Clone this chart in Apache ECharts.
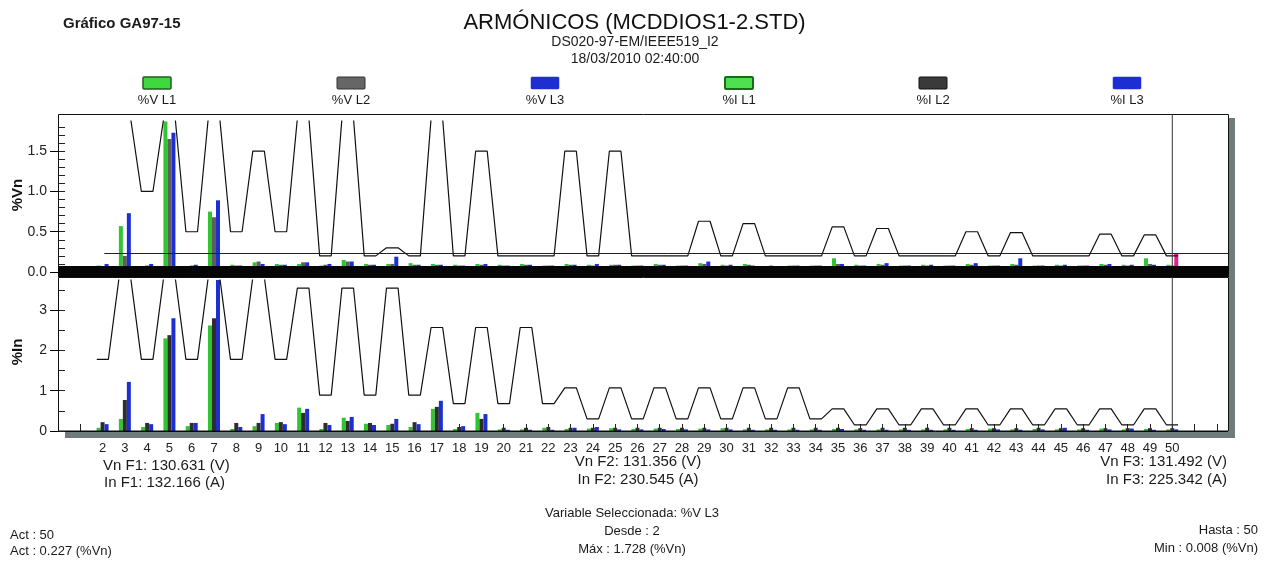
<!DOCTYPE html>
<html><head><meta charset="utf-8">
<script src="https://cdn.jsdelivr.net/npm/echarts@6/dist/echarts.min.js"></script>
<style>html,body{margin:0;padding:0;background:#fff}#c{width:1269px;height:563px}</style>
</head><body><div id="c"></div>
<script>
// ---------------- DATA ----------------
const harmonics = [2,3,4,5,6,7,8,9,10,11,12,13,14,15,16,17,18,19,20,21,22,23,24,25,26,27,28,29,30,31,32,33,34,35,36,37,38,39,40,41,42,43,44,45,46,47,48,49,50];
const legendNames = ['%V L1','%V L2','%V L3','%I L1','%I L2','%I L3'];
// %Vn values per harmonic (top panel)
const vL1 = [0.08,0.57,0.07,1.87,0.07,0.75,0.09,0.12,0.10, 0.10,0.08,0.15,0.10,0.10,0.11,0.10,0.09,0.10,0.09, 0.10,0.08,0.10,0.09,0.09,0.08,0.10,0.08,0.11,0.09, 0.10,0.07,0.08,0.08,0.17,0.09,0.10,0.08,0.09,0.08, 0.10,0.08,0.10,0.08,0.09,0.08,0.10,0.09,0.17,0.09];
const vL2 = [0.07,0.20,0.08,1.65,0.08,0.68,0.08,0.13,0.09, 0.12,0.09,0.13,0.09,0.10,0.09,0.09,0.08,0.09,0.08, 0.09,0.08,0.09,0.08,0.09,0.08,0.09,0.08,0.10,0.08, 0.09,0.08,0.08,0.08,0.10,0.08,0.09,0.08,0.08,0.08, 0.09,0.08,0.09,0.08,0.08,0.08,0.09,0.08,0.10,0.08];
const vL3 = [0.10,0.73,0.10,1.728,0.09,0.89,0.08,0.10,0.09, 0.12,0.10,0.13,0.09,0.19,0.09,0.09,0.08,0.10,0.08, 0.09,0.08,0.09,0.10,0.09,0.08,0.09,0.08,0.13,0.09, 0.08,0.008,0.08,0.08,0.10,0.08,0.11,0.08,0.09,0.08, 0.11,0.08,0.17,0.08,0.09,0.08,0.10,0.09,0.09,0.227];
// %In values per harmonic (bottom panel)
const iL1 = [0.08,0.30,0.10,2.30,0.12,2.62,0.05,0.12,0.20, 0.58,0.05,0.33,0.18,0.15,0.10,0.55,0.05,0.45,0.04, 0.04,0.08,0.05,0.06,0.07,0.05,0.06,0.05,0.06,0.07, 0.04,0.04,0.04,0.04,0.05,0.04,0.04,0.04,0.04,0.04, 0.05,0.06,0.04,0.05,0.04,0.04,0.06,0.04,0.05,0.04];
const iL2 = [0.22,0.77,0.20,2.38,0.20,2.80,0.20,0.20,0.22, 0.45,0.20,0.25,0.20,0.18,0.22,0.60,0.10,0.30,0.08, 0.08,0.10,0.08,0.08,0.08,0.08,0.08,0.08,0.08,0.08, 0.08,0.08,0.08,0.08,0.08,0.07,0.08,0.08,0.08,0.08, 0.07,0.07,0.07,0.08,0.07,0.07,0.07,0.07,0.07,0.07];
const iL3 = [0.17,1.22,0.17,2.80,0.20,3.75,0.10,0.42,0.17, 0.55,0.15,0.35,0.15,0.30,0.17,0.75,0.12,0.42,0.03, 0.03,0.03,0.08,0.10,0.04,0.04,0.05,0.04,0.04,0.04, 0.03,0.03,0.03,0.03,0.05,0.03,0.03,0.03,0.03,0.03, 0.03,0.04,0.03,0.04,0.08,0.03,0.04,0.06,0.03,0.04];
// limits per harmonic
const vLimit = [2.0,5.0,1.0,6.0,0.5,5.0,0.5,1.5,0.5, 3.5,0.2,3.0,0.2,0.3,0.2,2.0,0.2,1.5,0.2, 0.2,0.2,1.5,0.2,1.5,0.2,0.2,0.2,0.63,0.2, 0.60,0.2,0.2,0.2,0.56,0.2,0.54,0.2,0.2,0.2, 0.50,0.2,0.49,0.2,0.2,0.2,0.47,0.2,0.46,0.2];
const iLimit = [1.78,7.1,1.78,7.1,1.78,7.1,1.78,7.1,1.78, 3.55,0.89,3.55,0.89,3.55,0.89,2.57,0.68,2.57,0.68, 2.57,0.68,1.07,0.30,1.07,0.30,1.07,0.30,1.07,0.30, 1.07,0.30,1.07,0.30,0.55,0.15,0.55,0.15,0.55,0.15, 0.55,0.15,0.55,0.15,0.55,0.15,0.55,0.15,0.55,0.15];
const yTicksV = [0, 0.5, 1.0, 1.5];
const yTicksI = [0, 1, 2, 3];
const vnF = ['130.631','131.356','131.492'];
const inF = ['132.166','230.545','225.342'];
const cursorHarmonic = 50;
const selectedName = '%V L3';

// ---------------- BUILD ----------------
const FONT = '"Liberation Sans", Arial, sans-serif';
const V_MAX = 1.875, I_MAX = 3.75, X_MAX = 52.5, HW = 0.26;
const GREEN = '#33c433', BLUE = '#1d2fd2', GREY = '#5e5e5e', DARK = '#2e2e2e', MAGENTA = '#e0208c';
const curIdx = harmonics.indexOf(cursorHarmonic);
const pairs = arr => harmonics.map((h, i) => [h, arr[i]]);
const limitPts = (lims, clamp) => {
  const pts = [];
  harmonics.forEach((h, i) => { const v = Math.min(lims[i], clamp); pts.push([h - HW, v], [h + HW, v]); });
  return pts;
};
const minorV = []; for (let k = 0; k <= 18; k++) minorV.push(+(k * 0.1).toFixed(1));
const minorI = []; for (let k = 0; k <= 7; k++) minorI.push(k * 0.5);
const xTicks = []; for (let k = 1; k <= 52; k++) xTicks.push(k);

const bar = (name, arr, color, xi, extra) => Object.assign({
  name, type: 'bar', xAxisIndex: xi, yAxisIndex: xi * 2, data: pairs(arr),
  barWidth: 4, barGap: '0%', itemStyle: { color }, silent: true, animation: false
}, extra || {});

const vL3Data = pairs(vL3).map((p, i) => i === curIdx ? { value: p, itemStyle: { color: MAGENTA } } : p);

const chart = echarts.init(document.getElementById('c'), null, { renderer: 'canvas' });
const yCommon = { type: 'value', position: 'left', splitLine: { show: false } };
const option = {
  animation: false,
  backgroundColor: '#fff',
  title: {
    text: 'ARMÓNICOS (MCDDIOS1-2.STD)', left: 'center', top: 7,
    textStyle: { fontFamily: FONT, fontSize: 22, fontWeight: 'normal', color: '#111' }
  },
  grid: [
    { left: 58, top: 121, width: 1170, height: 151 },
    { left: 58, top: 280, width: 1170, height: 151 }
  ],
  xAxis: [
    { type: 'value', gridIndex: 0, min: 0, max: X_MAX, show: false },
    { type: 'value', gridIndex: 1, min: 0, max: X_MAX, interval: 1,
      axisLine: { lineStyle: { color: '#000', width: 1 } },
      axisTick: { inside: true, length: 7, customValues: xTicks, lineStyle: { color: '#222' } },
      axisLabel: { customValues: harmonics, margin: 11, fontSize: 13, fontFamily: FONT, color: '#222',
        formatter: v => (harmonics.indexOf(v) >= 0 ? String(v) : '') },
      splitLine: { show: false } }
  ],
  yAxis: [
    Object.assign({}, yCommon, { gridIndex: 0, min: 0, max: V_MAX, interval: 0.5,
      axisLine: { show: true, lineStyle: { color: '#000' } },
      axisTick: { show: true, length: 8, customValues: yTicksV, lineStyle: { color: '#000' } },
      axisLabel: { customValues: yTicksV, margin: 11, fontSize: 14, fontFamily: FONT, color: '#222',
        formatter: v => (yTicksV.indexOf(v) >= 0 ? v.toFixed(1) : '') } }),
    Object.assign({}, yCommon, { gridIndex: 0, min: 0, max: V_MAX, interval: 0.1,
      axisLine: { show: false },
      axisTick: { show: true, inside: true, length: 7, customValues: minorV, lineStyle: { color: '#222' } },
      axisLabel: { show: false } }),
    Object.assign({}, yCommon, { gridIndex: 1, min: 0, max: I_MAX, interval: 1,
      axisLine: { show: true, lineStyle: { color: '#000' } },
      axisTick: { show: true, length: 8, customValues: yTicksI, lineStyle: { color: '#000' } },
      axisLabel: { customValues: yTicksI, margin: 11, fontSize: 14, fontFamily: FONT, color: '#222',
        formatter: v => (yTicksI.indexOf(v) >= 0 ? String(v) : '') } }),
    Object.assign({}, yCommon, { gridIndex: 1, min: 0, max: I_MAX, interval: 0.5,
      axisLine: { show: false },
      axisTick: { show: true, inside: true, length: 7, customValues: minorI, lineStyle: { color: '#222' } },
      axisLabel: { show: false } })
  ],
  series: [
    bar('%V L1', vL1, GREEN, 0),
    bar('%V L2', vL2, GREY, 0),
    bar('%V L3', vL3, BLUE, 0, {
      data: vL3Data,
      markLine: { silent: true, symbol: 'none', label: { show: false },
        lineStyle: { color: '#222', width: 1, type: 'solid' },
        data: [[{ coord: [1.9, vL3[curIdx]] }, { coord: [X_MAX, vL3[curIdx]] }]] }
    }),
    { name: 'Límite %Vn', type: 'line', xAxisIndex: 0, yAxisIndex: 0, data: limitPts(vLimit, V_MAX + 0.03),
      symbol: 'none', clip: true, lineStyle: { color: '#111', width: 1.2 }, silent: true, z: 3 },
    bar('%I L1', iL1, GREEN, 1, { yAxisIndex: 2 }),
    bar('%I L2', iL2, DARK, 1, { yAxisIndex: 2 }),
    bar('%I L3', iL3, BLUE, 1, { yAxisIndex: 2 }),
    { name: 'Límite %In', type: 'line', xAxisIndex: 1, yAxisIndex: 2, data: limitPts(iLimit, I_MAX + 0.06),
      symbol: 'none', clip: true, lineStyle: { color: '#111', width: 1.2 }, silent: true, z: 3 }
  ]
};
chart.setOption(option);

// ---------------- DECORATION (graphic) ----------------
const txt = (text, x, y, size, align, extra) => ({
  type: 'text', z: 50, silent: true, x, y,
  style: Object.assign({ text, font: (extra && extra.bold ? 'bold ' : '') + size + 'px ' + FONT,
    fill: '#1a1a1a', align: align || 'left', verticalAlign: 'middle' }, extra && extra.style || {})
});
const legendStyles = [
  { fill: '#3fd83f', stroke: '#1f5f1f', lineWidth: 1.5 },
  { fill: '#666', stroke: '#333', lineWidth: 1 },
  { fill: BLUE, stroke: BLUE, lineWidth: 0.5 },
  { fill: '#4fe04f', stroke: '#1c6a1c', lineWidth: 2 },
  { fill: '#3a3a3a', stroke: '#111', lineWidth: 1 },
  { fill: BLUE, stroke: BLUE, lineWidth: 0.5 }
];
const g = [];
legendNames.forEach((n, i) => {
  const cx = 157 + i * 194;
  g.push({ type: 'rect', z: 50, silent: true, shape: { x: cx - 14, y: 77, width: 28, height: 12, r: 1 }, style: legendStyles[i] });
  g.push(txt(n, cx, 100, 13, 'center'));
});
g.push(txt('Gráfico GA97-15', 63, 24, 15, 'left', { bold: true }));
g.push(txt('DS020-97-EM/IEEE519_I2', 635, 42, 14, 'center'));
g.push(txt('18/03/2010 02:40:00', 635, 59, 14, 'center'));
g.push({ type: 'text', z: 50, silent: true, x: 18, y: 195, rotation: Math.PI / 2,
  style: { text: '%Vn', font: 'bold 15px ' + FONT, fill: '#111', align: 'center', verticalAlign: 'middle' } });
g.push({ type: 'text', z: 50, silent: true, x: 18, y: 352, rotation: Math.PI / 2,
  style: { text: '%In', font: 'bold 15px ' + FONT, fill: '#111', align: 'center', verticalAlign: 'middle' } });
// frames, band, shadow
g.push({ type: 'rect', z: 40, silent: true, shape: { x: 58.5, y: 114.5, width: 1170, height: 157 }, style: { fill: null, stroke: '#111', lineWidth: 1 } });
g.push({ type: 'rect', z: 40, silent: true, shape: { x: 58.5, y: 277.5, width: 1170, height: 153.5 }, style: { fill: null, stroke: '#111', lineWidth: 1 } });
g.push({ type: 'rect', z: 45, silent: true, shape: { x: 58, y: 266, width: 1177, height: 11 }, style: { fill: '#050505' } });
g.push({ type: 'rect', z: 45, silent: true, shape: { x: 1229, y: 118, width: 6, height: 320 }, style: { fill: '#6f7b7b' } });
g.push({ type: 'rect', z: 45, silent: true, shape: { x: 65, y: 432, width: 1170, height: 6 }, style: { fill: '#6f7b7b' } });
// cursor vertical line at selected harmonic
const cx50 = chart.convertToPixel({ xAxisIndex: 1 }, cursorHarmonic);
g.push({ type: 'line', z: 44, silent: true, shape: { x1: cx50, y1: 114, x2: cx50, y2: 431 }, style: { stroke: '#333', lineWidth: 1 } });
// fundamentals
g.push(txt('Vn F1: ' + vnF[0] + ' (V)', 103, 466, 15, 'left'));
g.push(txt('In F1: ' + inF[0] + ' (A)', 104, 483, 15, 'left'));
g.push(txt('Vn F2: ' + vnF[1] + ' (V)', 638, 462, 15, 'center'));
g.push(txt('In F2: ' + inF[1] + ' (A)', 638, 480, 15, 'center'));
g.push(txt('Vn F3: ' + vnF[2] + ' (V)', 1227, 462, 15, 'right'));
g.push(txt('In F3: ' + inF[2] + ' (A)', 1227, 480, 15, 'right'));
// status lines
const f3 = v => v.toFixed(3);
g.push(txt('Variable Seleccionada: ' + selectedName, 632, 513, 13, 'center'));
g.push(txt('Desde : ' + harmonics[0], 632, 531, 13, 'center'));
g.push(txt('Máx : ' + f3(Math.max.apply(null, vL3)) + ' (%Vn)', 632, 549, 13, 'center'));
g.push(txt('Act : ' + cursorHarmonic, 10, 535, 13, 'left'));
g.push(txt('Act : ' + f3(vL3[curIdx]) + ' (%Vn)', 10, 551, 13, 'left'));
g.push(txt('Hasta : ' + harmonics[harmonics.length - 1], 1258, 530, 13, 'right'));
g.push(txt('Min : ' + f3(Math.min.apply(null, vL3)) + ' (%Vn)', 1258, 548, 13, 'right'));
chart.setOption({ graphic: g });
</script></body></html>
